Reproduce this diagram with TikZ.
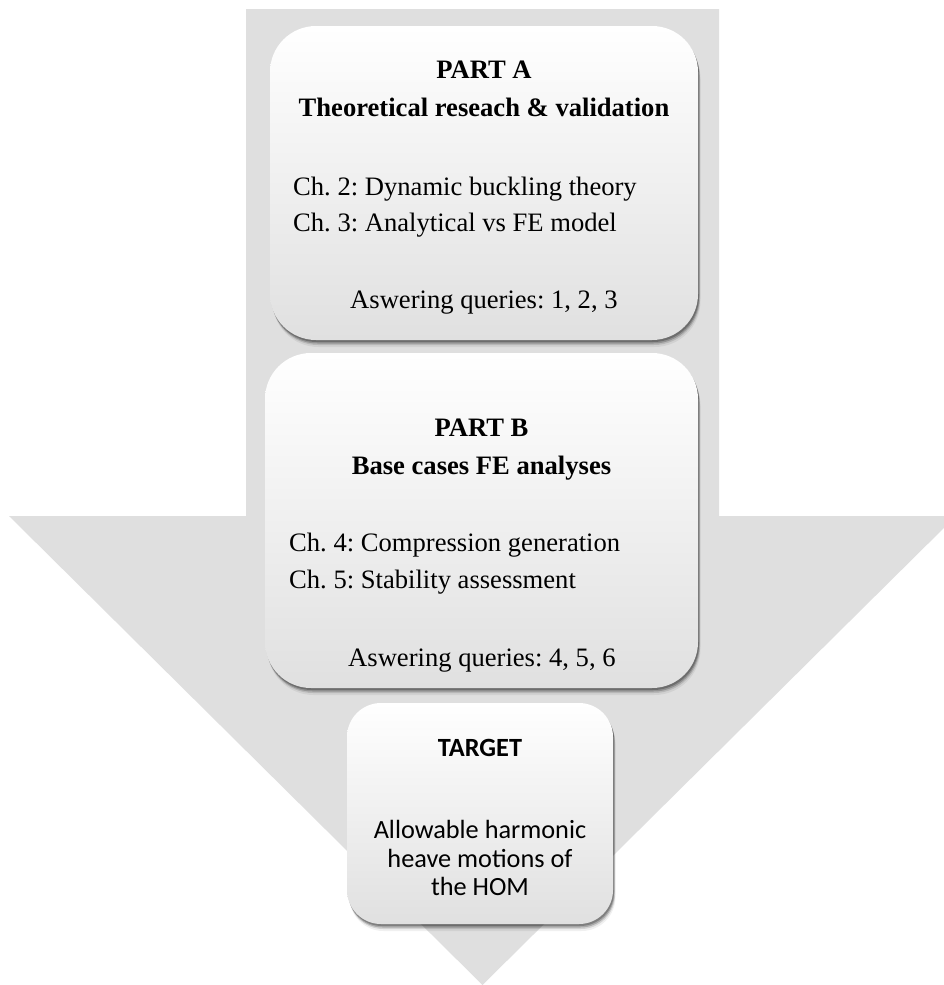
\documentclass[tikz,border=0pt]{standalone}
\usepackage{fontspec}
\setmainfont{Liberation Serif}
\newfontfamily\calib{Carlito}
\usetikzlibrary{shadows}
\definecolor{arrowgray}{HTML}{DFDFDF}
\definecolor{boxbottom}{HTML}{E0E0E0}
\begin{document}
\frenchspacing
\begin{tikzpicture}[x=1pt,y=1pt,
  shadowed/.style={
    drop shadow={shadow xshift=2.5pt, shadow yshift=-7pt, opacity=0.06, fill=black},
    drop shadow={shadow xshift=2pt, shadow yshift=-5pt, opacity=0.12, fill=black},
    drop shadow={shadow xshift=1.5pt, shadow yshift=-3.5pt, opacity=0.2, fill=black},
    drop shadow={shadow xshift=1pt, shadow yshift=-2pt, opacity=0.25, fill=black}},
  stagebox/.style={draw=none, shadowed, top color=white, middle color=white,
    bottom color=boxbottom, inner sep=0pt, rounded corners=46pt},
  serifline/.style={font=\fontsize{26.6}{30}\selectfont, inner sep=0pt},
  titleline/.style={serifline, font=\fontsize{26.6}{30}\selectfont\bfseries, anchor=base},
  bodyline/.style={serifline, anchor=base west},
  calline/.style={font=\calib\fontsize{26.3}{29}\selectfont, inner sep=0pt, anchor=base}]
\useasboundingbox (0,-985) rectangle (943,0);
% big arrow
\fill[arrowgray] (246,-9) -- (719,-9) -- (719,-516) -- (956,-516) -- (482.5,-985)
  -- (9,-516) -- (246,-516) -- cycle;
% boxes
\node[stagebox, minimum width=428pt, minimum height=314pt] (boxA) at (484,-183) {};
\node[stagebox, minimum width=433pt, minimum height=335pt] (boxB) at (481.5,-520.5) {};
\node[stagebox, minimum width=266pt, minimum height=221pt, rounded corners=34pt] (boxT) at (480,-813.5) {};
% part A
\node[titleline] (pa) at (484,-78.3) {PART A};
\node[titleline] (pat) at (484,-116.7) {Theoretical reseach \& validation};
\node[bodyline] (c2) at (293,-195) {Ch. 2: Dynamic buckling theory};
\node[bodyline] (c3) at (293,-231.7) {Ch. 3: Analytical vs FE model};
\node[bodyline] (qa) at (350,-308.3) {Aswering queries: 1, 2, 3};
% part B
\node[titleline] (pb) at (481.5,-436) {PART B};
\node[titleline] (pbt) at (481.5,-474) {Base cases FE analyses};
\node[bodyline] (c4) at (289,-551) {Ch. 4: Compression generation};
\node[bodyline] (c5) at (289,-588) {Ch. 5: Stability assessment};
\node[bodyline] (qb) at (348,-666) {Aswering queries: 4, 5, 6};
% target
\node[calline, font=\calib\fontsize{26.3}{29}\selectfont\bfseries] (tt) at (480,-756) {TARGET};
\node[calline] (t1) at (480,-838) {Allowable harmonic};
\node[calline] (t2) at (480,-867) {heave motions of};
\node[calline] (t3) at (480,-895) {the HOM};
\end{tikzpicture}
\end{document}
